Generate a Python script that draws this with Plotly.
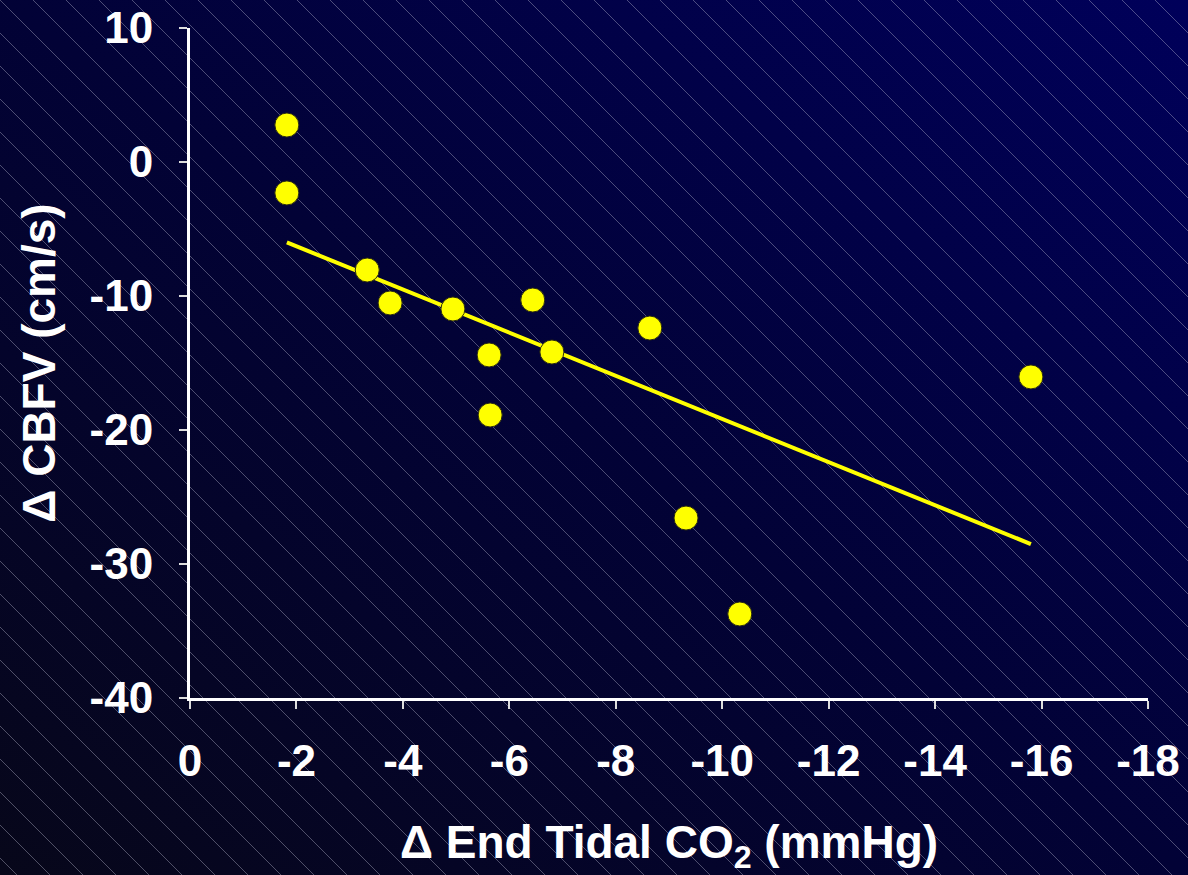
import base64
import numpy as np
import plotly.graph_objects as go

# Data
delta_etco2 = [-1.82, -1.82, -3.33, -3.76, -4.94, -6.44, -5.62, -6.80, -5.64, -8.64, -9.32, -10.33, -15.80]
delta_cbfv = [2.76, -2.31, -8.06, -10.52, -10.97, -10.30, -14.40, -14.18, -18.88, -12.39, -26.57, -33.73, -16.04]
x_ticks = [0, -2, -4, -6, -8, -10, -12, -14, -16, -18]
y_ticks = [10, 0, -10, -20, -30, -40]

W, H = 1188, 875
ML, MR, MT, MB = 190, 40, 28, 177
PW, PH = W - ML - MR, H - MT - MB

# linear regression line through the data
slope, intercept = np.polyfit(delta_etco2, delta_cbfv, 1)
fx = np.array([max(delta_etco2), min(delta_etco2)])
fy = slope * fx + intercept

svg = f"""<svg xmlns='http://www.w3.org/2000/svg' width='{W}' height='{H}' viewBox='0 0 {W} {H}'>
<defs>
<linearGradient id='g' x1='0' y1='1' x2='1' y2='0'>
<stop offset='0' stop-color='#07071a'/>
<stop offset='0.5' stop-color='#020236'/>
<stop offset='1' stop-color='#00005a'/>
</linearGradient>
<pattern id='p' width='33' height='33' patternUnits='userSpaceOnUse'>
<path d='M-2,-2 L35,35' stroke='#c8c8dc' stroke-opacity='0.38' stroke-width='1'/>
</pattern>
</defs>
<rect width='{W}' height='{H}' fill='url(#g)'/>
<rect width='{W}' height='{H}' fill='url(#p)'/>
</svg>"""
src = "data:image/svg+xml;base64," + base64.b64encode(svg.encode()).decode()

fig = go.Figure()
fig.add_trace(go.Scatter(
    x=fx, y=fy, mode="lines",
    line=dict(color="#ffff00", width=4),
    hoverinfo="skip", showlegend=False,
))
fig.add_trace(go.Scatter(
    x=delta_etco2, y=delta_cbfv, mode="markers",
    marker=dict(size=24, color="#ffff00", line=dict(color="#2a2a10", width=1)),
    showlegend=False,
))

fam = "Liberation Sans, Arial, sans-serif"
bold44 = dict(family=fam, size=44, color="white", weight="bold")
bold46 = dict(family=fam, size=46, color="white", weight="bold")

fig.update_layout(
    width=W, height=H,
    margin=dict(l=ML, r=MR, t=MT, b=MB, pad=0, autoexpand=False),
    paper_bgcolor="#03032a",
    plot_bgcolor="rgba(0,0,0,0)",
    font=dict(family=fam, size=44, color="white"),
    images=[dict(
        source=src, xref="paper", yref="paper",
        x=-ML / PW, y=1 + MT / PH, sizex=W / PW, sizey=H / PH,
        xanchor="left", yanchor="top", sizing="stretch", layer="below",
    )],
    xaxis=dict(
        range=[0, -18], autorange=False, automargin=False,
        tickvals=x_ticks, ticktext=[str(v) for v in x_ticks],
        showgrid=False, zeroline=False,
        showline=True, linecolor="white", linewidth=3,
        ticks="outside", ticklen=8, tickwidth=2, tickcolor="#dddddd",
        tickfont=bold44,
        ticklabelstandoff=14,
        title=dict(text="Δ End Tidal CO<sub>2</sub> (mmHg)", font=bold46, standoff=46),
    ),
    yaxis=dict(
        range=[-40, 10], autorange=False, automargin=False,
        tickvals=y_ticks, ticktext=[str(v) for v in y_ticks],
        showgrid=False, zeroline=False,
        showline=True, linecolor="white", linewidth=3,
        ticks="outside", ticklen=8, tickwidth=2, tickcolor="#dddddd",
        tickfont=bold44,
        ticklabelstandoff=17,
        title=dict(text="Δ CBFV (cm/s)", font=bold46, standoff=20),
    ),
)

fig.write_html(
    "out.html",
    config={"displayModeBar": False},
    post_script="document.body.style.margin='0';document.body.style.overflow='hidden';",
)
